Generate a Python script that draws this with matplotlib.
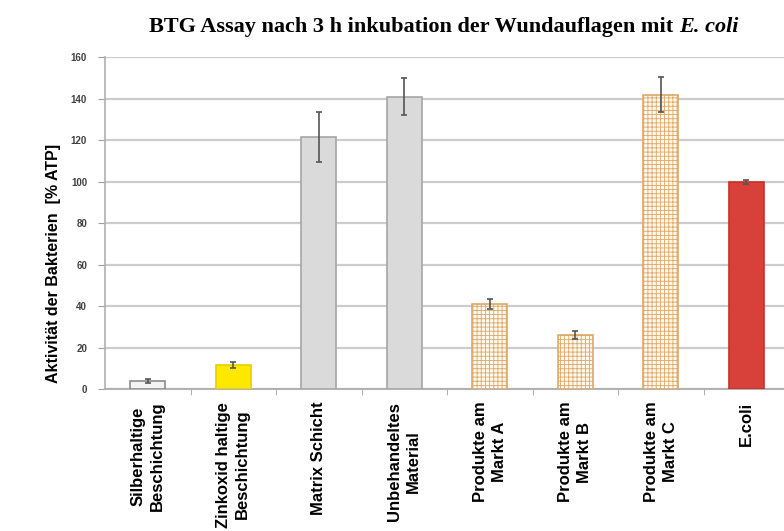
import matplotlib
matplotlib.use("Agg")
import matplotlib.pyplot as plt
import numpy as np

categories = ["Silberhaltige\nBeschichtung", "Zinkoxid haltige\nBeschichtung", "Matrix Schicht",
              "Unbehandeltes\nMaterial", "Produkte am\nMarkt A", "Produkte am\nMarkt B",
              "Produkte am\nMarkt C", "E.coli"]
values = [4, 11.5, 121.5, 141, 41, 26, 142, 100]
errors = [1, 1.5, 12, 9, 2.5, 2, 8.5, 1]
yticks = [0, 20, 40, 60, 80, 100, 120, 140, 160]

face = ["#F4F4F4", "#FFE800", "#DADADA", "#DADADA", "#FFF8EC", "#FFF8EC", "#FFF8EC", "#D8403A"]
edge = ["#8C8C8C", "#E6D000", "#A6A6A6", "#A6A6A6", "#DDA868", "#DDA868", "#DDA868", "#C8302A"]
hatch = [None, None, None, None, "++++", "++++", "++++", None]

plt.rcParams["hatch.linewidth"] = 0.6
fig = plt.figure(figsize=(7.84, 5.31), dpi=100)
ax = fig.add_axes([0.134, 0.267, 0.8724, 0.625])

x = np.arange(len(categories))
for i in range(len(categories)):
    ax.bar(x[i], values[i], width=0.41, color=face[i], edgecolor=edge[i], linewidth=1.2,
           hatch=hatch[i], zorder=3)
ax.errorbar(x, values, yerr=errors, fmt="none", ecolor="#555555", elinewidth=1.2,
            capsize=2.5, capthick=1.2, zorder=4)

ax.set_xlim(-0.5, len(categories) - 0.5)
ax.set_ylim(0, 160)
ax.set_yticks(yticks)
ax.set_yticklabels([str(t) for t in yticks], fontsize=7, color="#404040",
                   fontfamily="Liberation Sans", fontweight="bold")
ax.yaxis.grid(True, color="#CCCCCC", linewidth=1.6, zorder=0)
ax.set_axisbelow(True)
ax.tick_params(axis="y", length=5, color="#A0A0A0", pad=8)

ax.set_xticks(x)
ax.set_xticklabels(categories, rotation=90, fontsize=12, fontweight="bold",
                   fontfamily="Liberation Sans", ha="center", va="top", multialignment="center",
                   linespacing=1.3)
ax.set_xticks(np.arange(len(categories) - 1) + 0.5, minor=True)
ax.tick_params(axis="x", which="major", length=0, pad=9)
ax.tick_params(axis="x", which="minor", length=4, color="#A0A0A0")

for s in ["top", "right"]:
    ax.spines[s].set_visible(False)
ax.spines["left"].set_color("#B0B0B0")
ax.spines["bottom"].set_color("#B0B0B0")
ax.spines["left"].set_linewidth(1.2)
ax.spines["bottom"].set_linewidth(1.4)

ax.set_ylabel("Aktivität der Bakterien  [% ATP]", fontsize=11.5, fontweight="bold",
              fontfamily="Liberation Sans")
ax.yaxis.set_label_coords(-0.064, 0.38)

# Title with italic part
fig.canvas.draw()
r = fig.canvas.get_renderer()
t1 = fig.text(0.0, 0.949, "BTG Assay nach 3 h inkubation der Wundauflagen mit ",
              fontsize=16, fontweight="bold", fontfamily="Liberation Serif", va="center", ha="left")
t2 = fig.text(0.0, 0.949, "E. coli", fontsize=16, fontweight="bold", fontstyle="italic",
              fontfamily="Liberation Serif", va="center", ha="left")
w1 = t1.get_window_extent(r).width
w2 = t2.get_window_extent(r).width
cx = 444.0
start = cx - (w1 + w2) / 2
t1.set_x(start / 784)
t2.set_x((start + w1) / 784)

fig.savefig("out.png", dpi=100)
